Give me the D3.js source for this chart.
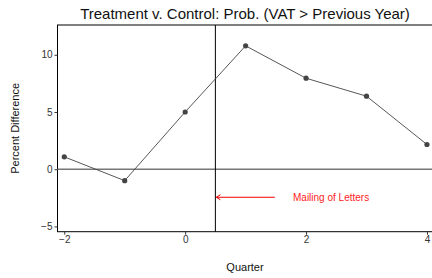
<!DOCTYPE html>
<html><head><meta charset="utf-8">
<script src="https://cdn.jsdelivr.net/npm/d3@7"></script>
<style>body{margin:0;background:#fff}svg{display:block;font-family:"Liberation Sans",Arial,sans-serif}</style>
</head><body>
<svg id="c" width="432" height="278"></svg>
<script>
const quarters = [-2, -1, 0, 1, 2, 3, 4];
const pctDiff = [1.08, -1.0, 5.0, 10.78, 7.95, 6.38, 2.16];
const xTicks = [-2, 0, 2, 4];
const yTicks = [-5, 0, 5, 10];
const mailingQuarter = 0.5;
const annotation = {x0: 1.5, x1: 0.5, y: -2.45, label: "Mailing of Letters"};

const svg = d3.select("#c");
const L = 57.5, R = 433, T = 25, B = 231.7;
const x = d3.scaleLinear().domain([-2.112, 4.1]).range([L, R]);
const y = d3.scaleLinear().domain([-5.46, 12.6]).range([B, T]);

// box
svg.append("rect").attr("x", L).attr("y", T).attr("width", R - L).attr("height", B - T)
  .attr("fill", "none").attr("stroke", "#000").attr("stroke-width", 1);

// zero line
svg.append("line").attr("x1", L).attr("x2", R).attr("y1", y(0)).attr("y2", y(0))
  .attr("stroke", "#777").attr("stroke-width", 1.5);
// vertical line
svg.append("line").attr("x1", x(mailingQuarter)).attr("x2", x(mailingQuarter)).attr("y1", T).attr("y2", B)
  .attr("stroke", "#000").attr("stroke-width", 1);

// axes
const fmt = d => d < 0 ? "\u2212" + Math.abs(d) : String(d);
const xa = svg.append("g").attr("transform", `translate(0,${B})`)
  .call(d3.axisBottom(x).tickValues(xTicks).tickFormat(fmt).tickSize(3).tickPadding(1));
const ya = svg.append("g").attr("transform", `translate(${L},0)`)
  .call(d3.axisLeft(y).tickValues(yTicks).tickFormat(fmt).tickSize(3).tickPadding(2));
[xa, ya].forEach(g => {
  g.select(".domain").remove();
  g.selectAll("line").attr("stroke", "#333");
  g.selectAll("text").attr("fill", "#333").style("font-size", "10px").style("font-family", '"Liberation Sans",Arial,sans-serif');
});

// line + points
svg.append("path").datum(quarters.map((q, i) => [q, pctDiff[i]]))
  .attr("d", d3.line().x(d => x(d[0])).y(d => y(d[1])))
  .attr("fill", "none").attr("stroke", "#444").attr("stroke-width", 0.9);
svg.selectAll("circle.pt").data(quarters.map((q, i) => [q, pctDiff[i]])).join("circle")
  .attr("class", "pt").attr("cx", d => x(d[0])).attr("cy", d => y(d[1])).attr("r", 2.6).attr("fill", "#444");

// annotation arrow
const ay = y(annotation.y);
const ax1 = x(annotation.x1) + 1;
svg.append("line").attr("x1", x(annotation.x0) - 1).attr("x2", ax1).attr("y1", ay).attr("y2", ay)
  .attr("stroke", "#e00").attr("stroke-width", 1);
svg.append("path").attr("d", `M${ax1 + 4},${ay - 2.5}L${ax1},${ay}L${ax1 + 4},${ay + 2.5}`)
  .attr("fill", "none").attr("stroke", "#e00").attr("stroke-width", 1);
svg.append("text").attr("x", 293).attr("y", ay).attr("dy", "0.35em")
  .attr("fill", "#f22").style("font-size", "10px").text(annotation.label);

// titles
svg.append("text").attr("x", 245).attr("y", 19).attr("text-anchor", "middle")
  .style("font-size", "15px").attr("fill", "#111").text("Treatment v. Control: Prob. (VAT > Previous Year)");
svg.append("text").attr("x", 245).attr("y", 271).attr("text-anchor", "middle")
  .style("font-size", "11px").attr("fill", "#111").text("Quarter");
svg.append("text").attr("transform", `translate(18.5,${(T + B) / 2}) rotate(-90)`).attr("text-anchor", "middle")
  .style("font-size", "11px").attr("fill", "#111").text("Percent Difference");
</script>
</body></html>
